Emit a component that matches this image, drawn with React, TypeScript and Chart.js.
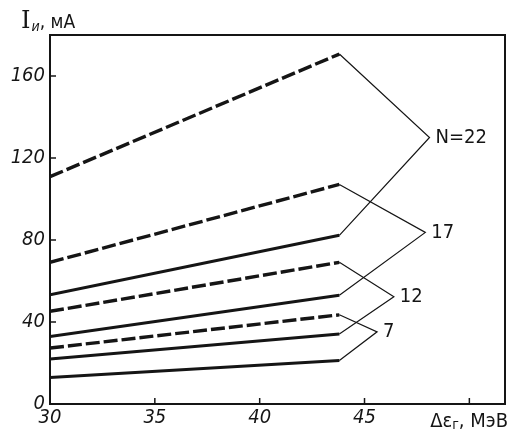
import React, { useEffect, useRef } from 'react';
import { Chart, registerables } from 'chart.js';
Chart.register(...registerables);

// ---- data ----
const xStart = 30;
const xEnd = 43.8;
const seriesLabels = ['N=22', '17', '12', '7'];
const dashedStart = [110.9, 69.1, 45.2, 27.3];
const dashedEnd = [170.7, 107.1, 69.1, 43.5];
const solidStart = [53.3, 32.9, 22.0, 12.9];
const solidEnd = [82.3, 53.0, 34.2, 21.2];
const calloutX = [48.1, 47.9, 46.4, 45.6];
const calloutY = [130.0, 83.7, 52.3, 35.2];
const xTicks = [30, 35, 40, 45, 50];
const xTickLabels = ['30', '35', '40', '45', ''];
const yTicks = [0, 40, 80, 120, 160];
const yTickLabels = ['0', '40', '80', '120', '160'];
const xMin = 30;
const xMax = 51.7;
const yMin = 0;
const yMax = 180;

const INK = '#151515';
const NARROW = '"Liberation Sans Narrow", "DejaVu Sans Condensed", "Liberation Sans", sans-serif';

const decorPlugin = {
  id: 'decor',
  afterDraw(chart: any) {
    const { ctx, chartArea, scales } = chart;
    const xs = scales.x;
    const ys = scales.y;
    ctx.save();
    ctx.strokeStyle = INK;
    // frame
    ctx.lineWidth = 2;
    ctx.strokeRect(chartArea.left, chartArea.top, chartArea.right - chartArea.left, chartArea.bottom - chartArea.top);
    // inward tick marks
    ctx.lineWidth = 1.5;
    xTicks.forEach((v) => {
      const px = xs.getPixelForValue(v);
      ctx.beginPath();
      ctx.moveTo(px, chartArea.bottom);
      ctx.lineTo(px, chartArea.bottom - 6);
      ctx.stroke();
    });
    yTicks.forEach((v) => {
      const py = ys.getPixelForValue(v);
      ctx.beginPath();
      ctx.moveTo(chartArea.left, py);
      ctx.lineTo(chartArea.left + 6, py);
      ctx.stroke();
    });
    // callout labels
    ctx.fillStyle = INK;
    ctx.textBaseline = 'middle';
    ctx.textAlign = 'left';
    ctx.font = `20px ${NARROW}`;
    seriesLabels.forEach((t, i) => {
      const px = xs.getPixelForValue(calloutX[i]);
      const py = ys.getPixelForValue(calloutY[i]);
      ctx.fillText(t, px + 6, py);
    });
    // y axis title: I_и, мА
    ctx.textBaseline = 'alphabetic';
    ctx.font = '24px "DejaVu Serif", serif';
    let x = 21;
    const yb = 28;
    ctx.fillText('I', x, yb);
    x += ctx.measureText('I').width + 1;
    ctx.font = `italic 14px ${NARROW}`;
    ctx.fillText('и', x, yb + 3);
    x += ctx.measureText('и').width;
    ctx.font = `19px ${NARROW}`;
    ctx.fillText(', мА', x, yb);
    // x axis title: Δε_г, МэВ
    const t1 = 'Δε';
    const t3 = ', МэВ';
    ctx.font = `14px ${NARROW}`;
    const wSub = ctx.measureText('г').width;
    ctx.font = `20px ${NARROW}`;
    const w1 = ctx.measureText(t1).width;
    const w3 = ctx.measureText(t3).width;
    const right = 508;
    let xx = right - (w1 + wSub + w3);
    const yy = 427;
    ctx.fillText(t1, xx, yy);
    xx += w1;
    ctx.font = `14px ${NARROW}`;
    ctx.fillText('г', xx, yy + 2);
    xx += wSub;
    ctx.font = `20px ${NARROW}`;
    ctx.fillText(t3, xx, yy);
    ctx.restore();
  },
};

export default function App() {
  const ref = useRef<HTMLCanvasElement | null>(null);
  useEffect(() => {
    if (!ref.current) return;
    const datasets: any[] = [];
    seriesLabels.forEach((lab, i) => {
      datasets.push({
        label: lab + ' dashed',
        data: [
          { x: xStart, y: dashedStart[i] },
          { x: xEnd, y: dashedEnd[i] },
        ],
        borderColor: INK,
        borderWidth: 3.4,
        borderDash: [14, 4],
        pointRadius: 0,
        fill: false,
      });
      datasets.push({
        label: lab + ' solid',
        data: [
          { x: xStart, y: solidStart[i] },
          { x: xEnd, y: solidEnd[i] },
        ],
        borderColor: INK,
        borderWidth: 3,
        pointRadius: 0,
        fill: false,
      });
      datasets.push({
        label: lab + ' leader',
        data: [
          { x: xEnd, y: dashedEnd[i] },
          { x: calloutX[i], y: calloutY[i] },
          { x: xEnd, y: solidEnd[i] },
        ],
        borderColor: INK,
        borderWidth: 1.2,
        pointRadius: 0,
        fill: false,
      });
    });
    const chart = new Chart(ref.current, {
      type: 'line',
      data: { datasets },
      options: {
        animation: false,
        responsive: false,
        events: [],
        layout: { padding: { top: 35, right: 4, left: 0, bottom: 0 } },
        plugins: { legend: { display: false }, tooltip: { enabled: false } },
        scales: {
          x: {
            type: 'linear',
            min: xMin,
            max: xMax,
            grid: { display: false, drawTicks: false },
            border: { display: false },
            afterBuildTicks: (s: any) => {
              s.ticks = xTicks.map((v) => ({ value: v }));
            },
            afterFit: (s: any) => {
              s.height = 26;
            },
            ticks: {
              autoSkip: false,
              maxRotation: 0,
              padding: 2,
              color: INK,
              font: { family: NARROW, size: 20, style: 'italic' },
              callback: (v: any) => {
                const idx = xTicks.indexOf(Number(v));
                return idx >= 0 ? xTickLabels[idx] : '';
              },
            },
          },
          y: {
            type: 'linear',
            min: yMin,
            max: yMax,
            grid: { display: false, drawTicks: false },
            border: { display: false },
            afterBuildTicks: (s: any) => {
              s.ticks = yTicks.map((v) => ({ value: v }));
            },
            afterFit: (s: any) => {
              s.width = 50;
            },
            ticks: {
              autoSkip: false,
              padding: 5,
              color: INK,
              font: { family: NARROW, size: 20, style: 'italic' },
              callback: (v: any) => {
                const idx = yTicks.indexOf(Number(v));
                return idx >= 0 ? yTickLabels[idx] : '';
              },
            },
          },
        },
      },
      plugins: [decorPlugin],
    });
    return () => chart.destroy();
  }, []);
  return (
    <div style={{ position: 'absolute', left: 0, top: 0, width: 509, height: 430, background: '#fff' }}>
      <canvas ref={ref} width={509} height={430} style={{ display: 'block' }} />
    </div>
  );
}
